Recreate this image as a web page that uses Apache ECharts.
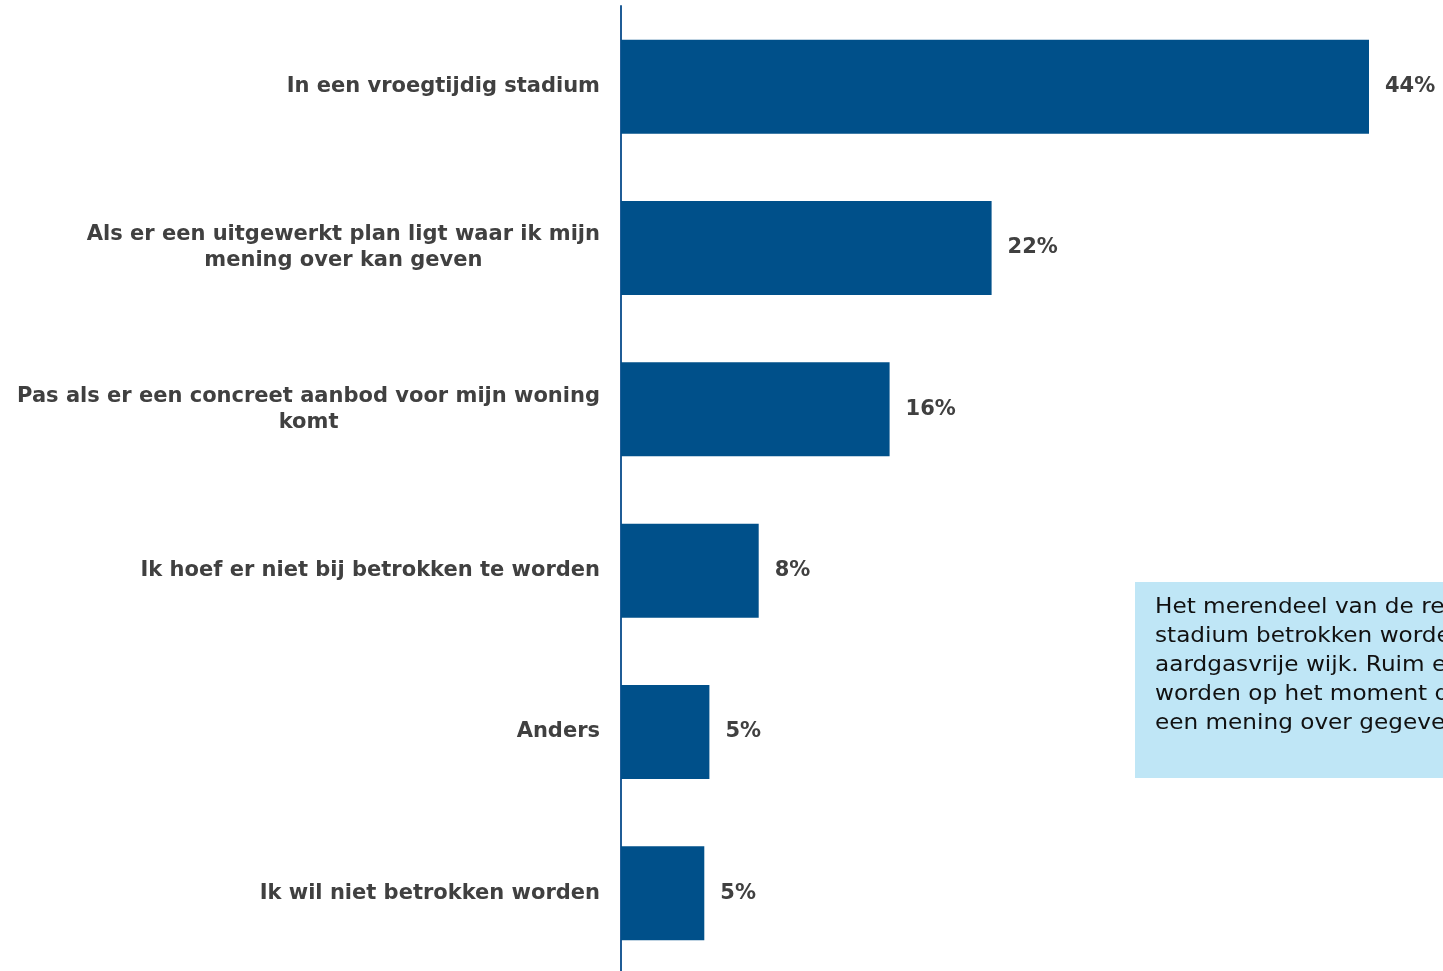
<!DOCTYPE html>
<html>
<head>
<meta charset="utf-8">
<script src="https://cdn.jsdelivr.net/npm/echarts@6/dist/echarts.min.js"></script>
<style>html,body{margin:0;padding:0;background:#fff;overflow:hidden;}#c{width:1443px;height:976px;}</style>
</head>
<body>
<div id="c"></div>
<script>
const categories = [
  'In een vroegtijdig stadium',
  'Als er een uitgewerkt plan ligt waar ik mijn\nmening over kan geven',
  'Pas als er een concreet aanbod voor mijn woning\nkomt',
  'Ik hoef er niet bij betrokken te worden',
  'Anders',
  'Ik wil niet betrokken worden'
];
const values = [44.0, 21.8, 15.8, 8.1, 5.2, 4.9];
const noteLines = [
  'Het merendeel van de respondenten wil in een vroegtijdig',
  'stadium betrokken worden bij de ontwikkeling van een',
  'aardgasvrije wijk. Ruim een vijfde wil betrokken',
  'worden op het moment dat er een uitgewerkt plan ligt waar',
  'een mening over gegeven kan worden.'
];

const FONT = '"DejaVu Sans", Verdana, sans-serif';
const chart = echarts.init(document.getElementById('c'), null, {renderer: 'canvas'});
chart.setOption({
  animation: false,
  backgroundColor: '#ffffff',
  grid: {left: 621, width: 816, top: 6, height: 968, containLabel: false},
  xAxis: {
    type: 'value', min: 0, max: 48,
    show: false
  },
  yAxis: {
    type: 'category',
    inverse: true,
    data: categories,
    axisLine: {show: true, lineStyle: {color: '#1f5c96', width: 2}},
    axisTick: {show: false},
    axisLabel: {
      margin: 21,
      align: 'right',
      formatter: function (v) {
        return v.split('\n').map(function (l) { return '{c|' + l + '}'; }).join('\n');
      },
      rich: {
        c: {align: 'center', fontFamily: FONT, fontWeight: 'bold', fontSize: 21, color: '#404040', lineHeight: 26}
      }
    }
  },
  series: [{
    type: 'bar',
    data: values,
    barWidth: 94,
    itemStyle: {color: '#00508a'},
    label: {
      show: true,
      position: 'right',
      distance: 16,
      formatter: function (p) { return Math.round(p.value) + '%'; },
      fontFamily: FONT, fontWeight: 'bold', fontSize: 21, color: '#404040'
    }
  }],
  graphic: [{
    type: 'group',
    left: 1135, top: 582,
    children: [
      {type: 'rect', shape: {x: 0, y: 0, width: 400, height: 196}, style: {fill: '#bfe6f6'}},
      {type: 'text', x: 20, y: 11, scaleX: 1.13, scaleY: 1,
       style: {text: noteLines.join('\n'), fontFamily: FONT, fontSize: 20.5, lineHeight: 29, fill: '#111111'}}
    ]
  }]
});
</script>
</body>
</html>
